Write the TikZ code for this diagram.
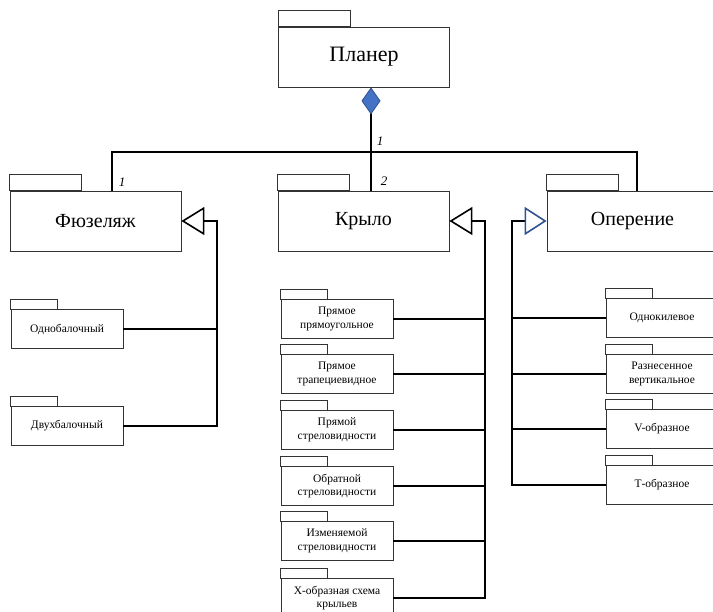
\documentclass[tikz,border=0pt]{standalone}
\usepackage{fontspec}
\setmainfont{Liberation Serif}
\usepackage{xcolor}
\usetikzlibrary{arrows.meta}
\definecolor{dfill}{HTML}{4472C4}
\definecolor{dline}{HTML}{2F528F}

\begin{document}
\begin{tikzpicture}[x=1pt,y=-1pt,
      pkg/.style={draw=black!80,line width=0.8pt,minimum width=171pt,minimum height=60pt,inner sep=0pt,font=\fontsize{20}{24}\selectfont},
      sub/.style={draw=black!80,line width=0.8pt,minimum width=112pt,minimum height=39pt,inner sep=0pt,align=center,font=\fontsize{11.5}{13.5}\selectfont},
      tab/.style={draw=black!80,line width=0.8pt},
      link/.style={line width=1.6pt},
      gen/.style={line width=1.6pt,-{Triangle[open,length=23pt,width=28pt]}},
      bgen/.style={line width=1.6pt,-{Triangle[open,length=22pt,width=28pt,color=dline]}},
      agg/.style={line width=1.6pt,{Diamond[length=27pt,width=19pt,fill=dfill,color=dline,line width=0.8pt]}-},
      mult/.style={font=\fontsize{13}{15}\selectfont\itshape,inner sep=1pt}
]
      \useasboundingbox (0,0) rectangle (713,612);

      % main packages
      \node[pkg,font=\fontsize{22}{26}\selectfont] (pl) at (364,57) {Планер};
      \node[pkg] (fus) at (95.5,221) {Фюзеляж};
      \node[pkg] (kr) at (363.5,221) {Крыло};
      \node[pkg] (op) at (632.5,221) {Оперение};
      \foreach \n in {pl,fus,kr,op}
          \draw[tab] (\n.north west) rectangle ++(72,-16);

      % fuselage
      \node[sub] (od) at (67,329) {Однобалочный};
      \node[sub] (dv) at (67,426) {Двухбалочный};

      % wing
      \node[sub] (w1) at (337,319) {Прямое\\прямоугольное};
      \node[sub] (w2) at (337,374) {Прямое\\трапециевидное};
      \node[sub] (w3) at (337,430) {Прямой\\стреловидности};
      \node[sub] (w4) at (337,486) {Обратной\\стреловидности};
      \node[sub] (w5) at (337,541) {Изменяемой\\стреловидности};
      \node[sub] (w6) at (337,598) {X-образная схема\\крыльев};

      % tail
      \node[sub] (t1) at (662,318) {Однокилевое};
      \node[sub] (t2) at (662,374) {Разнесенное\\вертикальное};
      \node[sub] (t3) at (662,429) {V-образное};
      \node[sub] (t4) at (662,485) {Т-образное};

      \foreach \n in {od,dv,w1,w2,w3,w4,w5,w6,t1,t2,t3,t4}
          \draw[tab] (\n.north west) rectangle ++(47,-10);

      % joints
      \coordinate (hub) at (371,152);
      \coordinate (lt) at (112,152);
      \coordinate (rt) at (637,152);
      \coordinate (fj) at (217,221);
      \coordinate (kj) at (485,221);
      \coordinate (oj) at (512,221);

      % composition
      \draw[agg] (pl.south -| hub) -- (hub) -- (kr.north -| hub);
      \draw[link] (fus.north -| lt) |- (rt) -- (op.north -| rt);
      \node[mult] (m0) at (380,141) {1};
      \node[mult] (m1) at (122,182) {1};
      \node[mult] (m2) at (384,181) {2};

      % generalization
      \draw[gen] (dv.east) -| (fj) -- (fus.east);
      \draw[link] (od.east) -- (od.east -| fj);

      \draw[gen] (w6.east) -| (kj) -- (kr.east);
      \draw[link] (w1.east) -- (w1.east -| kj);
      \draw[link] (w2.east) -- (w2.east -| kj);
      \draw[link] (w3.east) -- (w3.east -| kj);
      \draw[link] (w4.east) -- (w4.east -| kj);
      \draw[link] (w5.east) -- (w5.east -| kj);

      \draw[bgen] (t4.west) -| (oj) -- (op.west);
      \draw[link] (t1.west) -- (t1.west -| oj);
      \draw[link] (t2.west) -- (t2.west -| oj);
      \draw[link] (t3.west) -- (t3.west -| oj);
\end{tikzpicture}
\end{document}
